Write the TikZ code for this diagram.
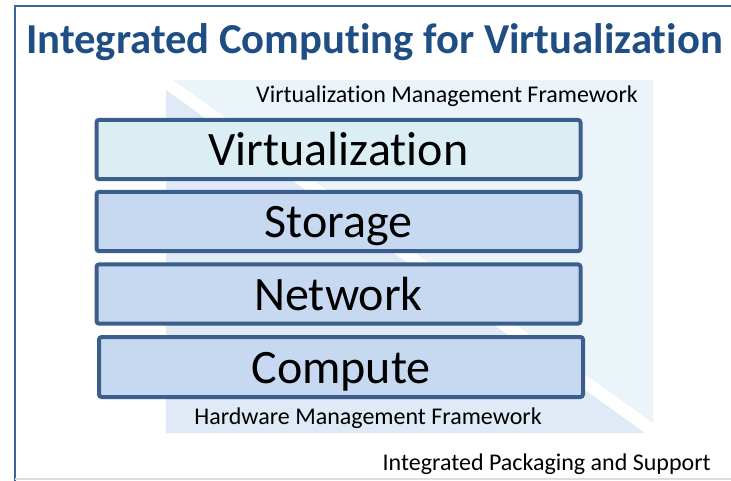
\documentclass[tikz,border=0pt]{standalone}
\usepackage{fontspec}
\setmainfont[Ligatures=NoCommon]{Carlito}
\definecolor{titleblue}{HTML}{1F4E85}
\definecolor{framecol}{HTML}{3C6496}
\definecolor{boxborder}{HTML}{3B5E8C}
\definecolor{boxfill}{HTML}{C6D9F1}
\definecolor{virtfill}{HTML}{DAEEF3}
\definecolor{uppertri}{HTML}{EBF5F9}
\definecolor{lowertri}{HTML}{DFEAF6}
\definecolor{bottomgrey}{HTML}{DCDCE4}
\tikzset{
  layerbox/.style={draw=boxborder, line width=3pt, rounded corners=2pt, fill=boxfill,
    inner sep=0pt, text height=26pt, text depth=2pt, font=\fontsize{36}{40}\selectfont, text=black},
  smalltext/.style={font=\fontsize{18}{21}\selectfont, text=black, inner sep=0pt}
}
\begin{document}
\begin{tikzpicture}[x=0.75pt,y=-0.75pt]
\useasboundingbox (0,0) rectangle (731,480);
% frame
\draw[framecol, line width=2.2pt] (15,481) -- (15,6) -- (735,6);
\draw[bottomgrey, line width=1pt] (15,479) -- (731,479);
% background triangles
\fill[uppertri] (173,80) -- (653,80) -- (653,423) -- cycle;
\fill[lowertri] (166,90) -- (166,433) -- (645,433) -- cycle;
% title
\node[anchor=base, font=\fontsize{32}{38}\selectfont\bfseries, text=titleblue, inner sep=0pt] (title) at (374.5,53) {Integrated Computing for Virtualization};
% labels
\node[anchor=base, smalltext] (vmf) at (447,102) {Virtualization Management Framework};
\node[anchor=base, smalltext] (hmf) at (368,424) {Hardware Management Framework};
\node[anchor=base east, smalltext] (ips) at (711,470) {Integrated Packaging and Support};
% layers
\node[layerbox, fill=virtfill, minimum width=363pt, minimum height=44.5pt] (virt) at (338.5,149.5) {Virtualization};
\node[layerbox, minimum width=363pt, minimum height=44.5pt] (stor) at (338.5,221.5) {Storage};
\node[layerbox, minimum width=363pt, minimum height=44.5pt] (net) at (338.5,294) {Network};
\node[layerbox, minimum width=363pt, minimum height=45pt] (comp) at (341,367) {Compute};
\end{tikzpicture}
\end{document}
